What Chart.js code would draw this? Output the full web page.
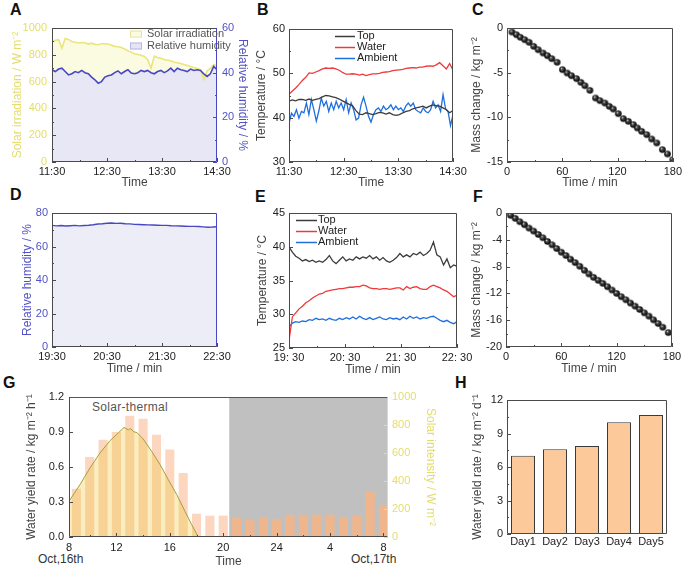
<!DOCTYPE html>
<html><head><meta charset="utf-8">
<script src="https://cdn.jsdelivr.net/npm/chart.js@4.4.1/dist/chart.umd.min.js"></script>
<style>
html,body{margin:0;padding:0;background:#fff;}
body{position:relative;width:685px;height:569px;overflow:hidden;font-family:"Liberation Sans",Arial,sans-serif;}
canvas{position:absolute;}
.pl{position:absolute;font-weight:bold;font-size:16px;line-height:16px;color:#111;}
.tx{position:absolute;font-size:12px;line-height:14px;color:#555;white-space:nowrap;}
</style></head><body>
<div class="pl" style="left:10px;top:2px">A</div>
<div class="pl" style="left:257px;top:2px">B</div>
<div class="pl" style="left:472px;top:2px">C</div>
<div class="pl" style="left:10px;top:187px">D</div>
<div class="pl" style="left:255px;top:189px">E</div>
<div class="pl" style="left:473px;top:189px">F</div>
<div class="pl" style="left:3px;top:375px">G</div>
<div class="pl" style="left:455px;top:375px">H</div>
<div class="tx" style="left:92px;top:400px;letter-spacing:0.3px">Solar-thermal</div>
<div class="tx" style="left:255px;top:400px;color:#444;letter-spacing:0.3px">Joule-heating</div>
<div class="tx" style="left:38px;top:552px;color:#333">Oct,16th</div>
<div class="tx" style="left:351px;top:552px;color:#333">Oct,17th</div>
<script>
// ================= DATA =================
// Panel A (11:30-14:30, minutes from 11:30)
const aTickMinutes = [0, 60, 120, 180];
const aTickLabels = ['11:30', '12:30', '13:30', '14:30'];
const aStep = 3.6;
const aSolar = [893, 908, 913, 850, 922, 915, 900, 893, 888, 892,
  890, 880, 887, 878, 875, 882, 883, 880, 872, 863,
  860, 855, 843, 830, 820, 808, 802, 797, 788, 763,
  700, 790, 780, 775, 765, 760, 755, 745, 740, 735,
  728, 720, 712, 705, 698, 690, 615, 680, 700, 728, 718];
const aHumidity = [41.3, 40.5, 41.6, 42.0, 40.5, 39.0, 39.5, 40.5, 40.0, 41.0,
  40.0, 39.5, 38.0, 36.8, 35.3, 36.0, 38.0, 38.6, 39.0, 40.0,
  40.8, 39.5, 40.5, 41.3, 39.8, 39.5, 40.0, 41.0, 40.5, 41.0,
  40.0, 39.5, 40.5, 41.0, 40.0, 40.8, 42.0, 40.5, 42.0, 41.3,
  41.0, 40.5, 41.6, 41.0, 41.3, 41.0, 39.5, 38.3, 39.5, 42.8, 41.3];

// Panel B temperatures
const bStep = 180 / 49;
const bTop = [43.7, 44.0, 43.8, 44.1, 44.1, 43.9, 44.2, 43.9, 44.1, 44.3,
  44.7, 45.0, 44.9, 44.7, 44.5, 44.2, 43.8, 43.4, 43.0, 42.7,
  41.6, 40.8, 40.7, 41.1, 40.9, 40.7, 40.9, 41.2, 41.1, 40.8,
  41.1, 40.7, 40.5, 40.7, 41.1, 41.4, 41.6, 42.0, 42.2, 42.4,
  42.6, 42.2, 42.6, 42.9, 42.7, 42.6, 42.2, 41.8, 41.1, 41.6];
const bWater = [45.3, 46.0, 46.7, 47.5, 48.4, 49.1, 50.1, 50.0, 50.3, 50.6,
  51.0, 51.2, 51.1, 51.2, 51.0, 50.7, 50.2, 49.8, 49.8, 49.9,
  49.8, 49.6, 49.8, 49.5, 49.7, 49.9, 49.9, 50.0, 50.2, 50.3,
  50.4, 50.6, 50.7, 50.8, 50.9, 51.1, 51.2, 51.3, 51.2, 51.4,
  51.4, 51.6, 51.7, 51.6, 51.9, 52.4, 51.7, 51.0, 52.2, 50.7];
const bAmbStep = 180 / 66;
const bAmbient = [38.8, 41.0, 40.3, 41.8, 39.9, 41.4, 41.1, 43.3, 40.7, 44.1,
  41.8, 39.2, 41.5, 44.4, 42.6, 43.7, 41.4, 43.3, 41.8, 43.7,
  42.2, 43.3, 41.8, 44.1, 41.1, 43.3, 41.8, 39.5, 39.9, 42.9,
  44.6, 42.6, 40.3, 39.0, 40.7, 41.8, 42.2, 41.4, 42.6, 41.8,
  42.2, 42.9, 41.8, 42.6, 41.8, 42.2, 41.4, 42.6, 43.3, 42.6,
  43.3, 41.8, 41.4, 41.1, 42.2, 41.4, 41.1, 41.8, 43.7, 42.2,
  42.9, 41.4, 45.2, 42.0, 41.4, 38.2, 40.7];

// Panel C mass change
const cTime = [5.4, 10.2, 14.5, 19.2, 24, 29, 33.8, 39.2, 43.9, 48.6, 54.4, 60.2, 65.3, 70, 75.5, 80.2, 84.6, 90,
  96.2, 100.9, 106.3, 111, 115.4, 120.8, 126.3, 131.7, 137.2, 141.5, 146.2, 151.7, 157.1, 162.6, 168.7, 174.2, 180];
const cMass = [-0.45, -0.75, -1.04, -1.31, -1.6, -2.05, -2.43, -2.8, -3.1, -3.43, -3.84, -4.66, -5.04, -5.34, -5.67, -6.08, -6.46, -6.98,
  -7.84, -8.13, -8.4, -8.77, -9.07, -9.59, -10.15, -10.45, -10.82, -11.19, -11.57, -11.94, -12.43, -12.87, -13.62, -14.1, -14.74];

// Panel D humidity (19:30-22:30)
const dTickLabels = ['19:30', '20:30', '21:30', '22:30'];
const dStep = 5;
const dHumidity = [72.6, 72.3, 72.5, 72.2, 72.4, 72.6, 72.3, 72.5, 72.7, 73.0,
  73.4, 73.6, 73.9, 74.0, 73.8, 73.9, 73.6, 73.5, 73.2, 73.1,
  73.0, 72.9, 72.8, 72.7, 72.6, 72.6, 72.4, 72.3, 72.2, 72.1,
  72.0, 72.0, 71.9, 71.7, 71.5, 71.6, 71.8];

// Panel E temperatures
const eTickLabels = ['19: 30', '20: 30', '21: 30', '22: 30'];
const eStep = 3.6;
const eTop = [40.0, 39.2, 38.6, 38.3, 37.9, 38.1, 37.8, 38.0, 37.7, 37.9,
  37.7, 38.1, 38.7, 37.9, 37.5, 38.0, 38.5, 37.9, 38.2, 38.0,
  38.5, 38.2, 38.5, 38.3, 38.7, 38.2, 38.5, 38.0, 38.4, 37.9,
  37.7, 38.0, 38.4, 39.0, 38.5, 38.8, 38.5, 39.0, 38.8, 39.2,
  38.7, 39.0, 39.5, 40.7, 38.8, 38.5, 37.3, 38.2, 36.9, 37.3, 37.1];
const eWater = [26.1, 29.6, 30.2, 30.8, 31.2, 31.7, 32.0, 32.4, 32.7, 33.0,
  33.1, 33.4, 33.5, 33.6, 33.7, 33.8, 33.8, 33.9, 34.0, 34.0,
  34.1, 34.1, 34.3, 34.2, 33.9, 33.8, 33.8, 33.7, 33.8, 33.8,
  33.7, 33.8, 33.9, 33.9, 33.6, 34.1, 33.8, 34.0, 34.1, 33.8,
  33.7, 33.7, 34.1, 34.3, 34.1, 33.9, 33.6, 33.4, 33.0, 32.6, 32.8];
const eAmbient = [28.1, 28.7, 28.9, 28.8, 29.0, 28.9, 29.2, 29.1, 29.4, 29.2,
  29.3, 29.1, 29.4, 29.2, 29.1, 29.4, 29.2, 29.5, 29.3, 29.6,
  29.3, 29.7, 29.4, 29.2, 29.5, 29.2, 29.4, 29.6, 29.3, 29.2,
  29.5, 29.3, 29.4, 29.2, 29.6, 29.3, 29.7, 29.4, 29.6, 29.3,
  29.5, 29.4, 29.6, 29.7, 29.4, 29.1, 28.9, 29.1, 28.8, 28.6, 28.9];

// Panel F mass change
const fTime = [5, 10, 15, 20, 25, 30, 35, 40, 45, 50, 55, 60, 65, 70, 75, 80, 85, 90, 95, 100,
  105, 110, 115, 120, 125, 130, 135, 140, 145, 150, 155, 160, 165, 170, 176];
const fMass = [-0.35, -0.8, -1.3, -1.75, -2.25, -2.7, -3.2, -3.7, -4.25, -4.75, -5.3, -5.85, -6.35, -6.9, -7.4, -7.95, -8.55, -9.1, -9.6, -10.05,
  -10.5, -11.0, -11.5, -12.0, -12.5, -12.95, -13.45, -13.9, -14.4, -14.9, -15.4, -15.95, -16.5, -17.05, -17.85];

// Panel G hourly water yield and solar intensity
const gTickHours = [8, 12, 16, 20, 24, 28, 32];
const gTickLabels = ['8', '12', '16', '20', '24', '4', '8'];
const gHours = [9, 10, 11, 12, 13, 14, 15, 16, 17, 18, 19, 20, 21, 22, 23, 24, 25, 26, 27, 28, 29, 30, 31, 32];
const gYield = [0.414, 0.686, 0.834, 0.90, 1.04, 1.014, 0.877, 0.749, 0.549, 0.20, 0.183, 0.183,
  0.171, 0.149, 0.163, 0.154, 0.191, 0.191, 0.191, 0.191, 0.163, 0.183, 0.386, 0.269];
const gSolarHours = [8.45, 9.27, 10.02, 10.77, 11.52, 12.14, 12.57, 12.9, 13.05, 13.3, 13.55, 13.8, 14.01, 14.64, 15.27, 15.89, 16.52, 17.14, 17.64, 18.13];
const gSolarIntensity = [255, 374, 493, 600, 688, 743, 783, 765, 775, 752, 745, 720, 700, 612, 517, 409, 303, 183, 88, 0];
const gJouleStart = 20.45;

// Panel H daily water yield
const hDays = ['Day1', 'Day2', 'Day3', 'Day4', 'Day5'];
const hYield = [7.01, 7.58, 7.88, 10.0, 10.66];

// ================= STYLE / HELPERS =================
const FONT = '"Liberation Sans", Arial, sans-serif';
Chart.defaults.font.family = FONT;
Chart.defaults.font.size = 11;
Chart.defaults.color = '#222';
Chart.defaults.animation = false;
Chart.defaults.plugins.legend.display = false;
Chart.defaults.plugins.tooltip.enabled = false;
Chart.defaults.elements.point.radius = 0;
Chart.defaults.elements.line.tension = 0;

const YEL = '#e4dd6c', BLU = '#5252c6', RED = '#ee3a3a', AMB = '#1f6fe0', DRK = '#3c3c3c', FR = '#4a4a4a';

const series = (step, arr) => arr.map((v, i) => ({x: i * step, y: v}));
const pairs = (xs, ys) => xs.map((x, i) => ({x: x, y: ys[i]}));
const plain = v => String(v);

function sphere(r) {
  const c = document.createElement('canvas');
  const s = Math.ceil(r * 2 + 2);
  c.width = c.height = s;
  const g = c.getContext('2d');
  const m = s / 2;
  const grd = g.createRadialGradient(m - r * 0.35, m - r * 0.4, 0.2, m, m, r);
  grd.addColorStop(0, '#d8d8d8');
  grd.addColorStop(0.35, '#444');
  grd.addColorStop(1, '#000');
  g.fillStyle = grd;
  g.beginPath(); g.arc(m, m, r, 0, Math.PI * 2); g.fill();
  return c;
}
const ball = sphere(3.3);

const deco = {
  id: 'deco',
  beforeDatasetsDraw(chart, args, o) {
    if (!o.shade) return;
    const {ctx, chartArea: a} = chart;
    const x0 = chart.scales.x.getPixelForValue(o.shade.from);
    ctx.save();
    ctx.fillStyle = o.shade.color;
    ctx.fillRect(x0, a.top, a.right - x0, a.bottom - a.top);
    ctx.restore();
  },
  afterDatasetsDraw(chart, args, o) {
    const {ctx, chartArea: a} = chart;
    ctx.save();
    ctx.lineWidth = 1;
    (o.ticks || []).forEach(t => {
      const s = chart.scales[t.scale];
      ctx.strokeStyle = t.color || FR;
      const n = Math.round((t.to - t.from) / t.step);
      for (let k = 0; k <= n; k++) {
        const v = t.from + k * t.step;
        const p = Math.round(s.getPixelForValue(v)) + 0.5;
        ctx.beginPath();
        if (s.isHorizontal()) { ctx.moveTo(p, a.bottom); ctx.lineTo(p, a.bottom - t.len); }
        else if (s.position === 'right') { ctx.moveTo(a.right, p); ctx.lineTo(a.right - t.len, p); }
        else { ctx.moveTo(a.left, p); ctx.lineTo(a.left + t.len, p); }
        ctx.stroke();
      }
    });
    const c = Object.assign({top: FR, right: FR, bottom: FR, left: FR}, o.frame || {});
    const L = Math.round(a.left) + 0.5, R = Math.round(a.right) - 0.5, T = Math.round(a.top) + 0.5, B = Math.round(a.bottom) - 0.5;
    const seg = (col, x1, y1, x2, y2) => { ctx.strokeStyle = col; ctx.beginPath(); ctx.moveTo(x1, y1); ctx.lineTo(x2, y2); ctx.stroke(); };
    seg(c.top, L, T, R, T); seg(c.bottom, L, B, R, B); seg(c.left, L, T, L, B); seg(c.right, R, T, R, B);
    if (o.legend) {
      const bx = o.box.x, by = o.box.y;
      ctx.font = '11px ' + FONT;
      ctx.textBaseline = 'middle';
      ctx.textAlign = 'left';
      o.legend.forEach(it => {
        const y = it.y - by;
        if (it.kind === 'line') {
          ctx.strokeStyle = it.color; ctx.lineWidth = 1.5;
          ctx.beginPath(); ctx.moveTo(it.x1 - bx, y + 0.5); ctx.lineTo(it.x2 - bx, y + 0.5); ctx.stroke();
        } else {
          ctx.fillStyle = it.fill; ctx.fillRect(it.x1 - bx, y - 3.5, it.x2 - it.x1, 7);
          ctx.strokeStyle = it.color; ctx.lineWidth = 1;
          ctx.strokeRect(it.x1 - bx + 0.5, y - 3.5 + 0.5, it.x2 - it.x1 - 1, 6);
        }
        ctx.fillStyle = it.tcolor || '#222';
        ctx.fillText(it.text, it.tx - bx, y);
      });
    }
    ctx.restore();
  }
};
Chart.register(deco);

function axis(o) {
  const cfg = {
    type: o.type || 'linear', position: o.position, offset: !!o.offset,
    grid: {display: false, drawTicks: false}, border: {display: false},
    ticks: {color: o.color || '#222', padding: o.pad == null ? 3 : o.pad, autoSkip: false, maxRotation: 0, font: {size: 11, weight: 'normal'}},
    title: {display: !!o.title, text: o.title || '', color: o.tcolor || o.color || '#444', font: {size: 12, weight: 'normal'},
      padding: {top: o.tpad || 0, bottom: o.tpad || 0}}
  };
  if (o.min != null) cfg.min = o.min;
  if (o.max != null) cfg.max = o.max;
  if (o.step != null) cfg.ticks.stepSize = o.step;
  if (o.cb) cfg.ticks.callback = o.cb;
  else if (cfg.type === 'linear') cfg.ticks.callback = plain;
  if (o.at) {
    cfg.afterBuildTicks = s => { s.ticks = o.at.map(v => ({value: v})); };
  }
  return cfg;
}

function panel(box, area, config) {
  const c = document.createElement('canvas');
  c.width = box.w; c.height = box.h;
  c.style.left = box.x + 'px'; c.style.top = box.y + 'px';
  c.style.width = box.w + 'px'; c.style.height = box.h + 'px';
  document.body.appendChild(c);
  const m = {left: area.l - box.x, right: box.x + box.w - area.r, top: area.t - box.y, bottom: box.y + box.h - area.b};
  const sc = config.options.scales;
  let hasRight = false;
  Object.keys(sc).forEach(k => {
    const s = sc[k];
    const horiz = (k === 'x' && s.position !== 'left' && s.position !== 'right');
    if (!horiz && s.position === 'right') hasRight = true;
    s.afterFit = sc2 => {
      if (horiz) sc2.height = m.bottom;
      else if (s.position === 'right') sc2.width = m.right;
      else sc2.width = m.left;
    };
  });
  config.options.responsive = false;
  config.options.maintainAspectRatio = false;
  config.options.layout = {padding: {top: m.top, left: 0, bottom: 0, right: hasRight ? 0 : m.right}};
  config.options.plugins = config.options.plugins || {};
  if (config.options.plugins.deco) config.options.plugins.deco.box = box;
  return new Chart(c.getContext('2d'), config);
}

const timeTicks = (labels) => (v, i) => labels[i];

// ================= PANEL A =================
panel({x: 0, y: 0, w: 250, h: 190}, {l: 52, t: 28, r: 217, b: 162}, {
  type: 'line',
  data: {datasets: [
    {data: series(aStep, aHumidity), yAxisID: 'y2', borderColor: '#4848c2', borderWidth: 1.6, backgroundColor: '#e7e7f5', fill: 'origin', order: 0},
    {data: series(aStep, aSolar), yAxisID: 'y', borderColor: '#ebe57a', borderWidth: 1.6, backgroundColor: '#fbfbe2', fill: 'origin', order: 1}
  ]},
  options: {
    plugins: {
      filler: {drawTime: 'beforeDatasetsDraw'},
      deco: {
        frame: {right: '#4848c2'},
        ticks: [
          {scale: 'x', from: 0, to: 180, step: 60, len: 4}, {scale: 'x', from: 30, to: 150, step: 60, len: 2},
          {scale: 'y', from: 0, to: 1000, step: 200, len: 4}, {scale: 'y', from: 100, to: 900, step: 200, len: 2},
          {scale: 'y2', from: 0, to: 60, step: 20, len: 4, color: '#4848c2'}, {scale: 'y2', from: 10, to: 50, step: 20, len: 2, color: '#4848c2'}
        ],
        legend: [
          {kind: 'box', x1: 130, x2: 142, y: 34, fill: '#fbfbe2', color: '#e8e4a0', text: 'Solar irradiation', tx: 147, tcolor: '#555'},
          {kind: 'box', x1: 130, x2: 142, y: 46, fill: '#e4e4f4', color: '#b8b8e4', text: 'Relative humidity', tx: 147, tcolor: '#555'}
        ]
      }
    },
    scales: {
      x: axis({min: 0, max: 180, at: aTickMinutes, cb: timeTicks(aTickLabels), title: 'Time', pad: 3}),
      y: axis({position: 'left', min: 0, max: 1000, step: 200, color: YEL, title: 'Solar irradiation / W m\u207B\u00B2', tpad: 10, pad: 5}),
      y2: axis({position: 'right', min: 0, max: 60, step: 20, color: BLU, title: 'Relative humidity / %', tpad: 0, pad: 5})
    }
  }
});

// ================= PANEL B =================
panel({x: 250, y: 0, w: 220, h: 190}, {l: 289, t: 29, r: 453, b: 162}, {
  type: 'line',
  data: {datasets: [
    {data: series(bStep, bTop), borderColor: DRK, borderWidth: 1.3},
    {data: series(bStep, bWater), borderColor: RED, borderWidth: 1.3},
    {data: series(bAmbStep, bAmbient), borderColor: AMB, borderWidth: 1.3}
  ]},
  options: {
    plugins: {deco: {
      ticks: [
        {scale: 'x', from: 0, to: 180, step: 60, len: 4}, {scale: 'x', from: 30, to: 150, step: 60, len: 2},
        {scale: 'y', from: 30, to: 60, step: 10, len: 4}, {scale: 'y', from: 35, to: 55, step: 10, len: 2}
      ],
      legend: [
        {kind: 'line', x1: 335, x2: 355, y: 36, color: DRK, text: 'Top', tx: 357},
        {kind: 'line', x1: 335, x2: 355, y: 47, color: RED, text: 'Water', tx: 357},
        {kind: 'line', x1: 335, x2: 355, y: 58, color: AMB, text: 'Ambient', tx: 357}
      ]
    }},
    scales: {
      x: axis({min: 0, max: 180, at: aTickMinutes, cb: timeTicks(aTickLabels), title: 'Time', pad: 3}),
      y: axis({position: 'left', min: 30, max: 60, step: 10, title: 'Temperature / \u00B0C', tpad: 4, pad: 4})
    }
  }
});

// ================= PANEL C =================
panel({x: 462, y: 0, w: 223, h: 190}, {l: 507, t: 28, r: 673, b: 162}, {
  type: 'scatter',
  data: {datasets: [
    {data: pairs(cTime, cMass), pointStyle: ball, pointRadius: 3.3, backgroundColor: '#000', borderColor: '#000'}
  ]},
  options: {
    plugins: {deco: {ticks: [
      {scale: 'x', from: 0, to: 180, step: 60, len: 4}, {scale: 'x', from: 30, to: 150, step: 60, len: 2},
      {scale: 'y', from: -15, to: 0, step: 5, len: 4}, {scale: 'y', from: -12.5, to: -2.5, step: 5, len: 2}
    ]}},
    scales: {
      x: axis({min: 0, max: 180, step: 60, title: 'Time / min', pad: 3}),
      y: axis({position: 'left', min: -15, max: 0, step: 5, title: 'Mass change / kg m\u207B\u00B2', tpad: 7, pad: 4})
    }
  }
});

// ================= PANEL D =================
panel({x: 0, y: 190, w: 250, h: 190}, {l: 52, t: 213, r: 217, b: 347}, {
  type: 'line',
  data: {datasets: [
    {data: series(dStep, dHumidity), borderColor: '#4848c2', borderWidth: 1.4, backgroundColor: '#ededf7', fill: 'origin'}
  ]},
  options: {
    plugins: {deco: {
      frame: {right: '#4848c2'},
      ticks: [
        {scale: 'x', from: 0, to: 180, step: 60, len: 4}, {scale: 'x', from: 30, to: 150, step: 60, len: 2},
        {scale: 'y', from: 0, to: 80, step: 20, len: 4}, {scale: 'y', from: 10, to: 70, step: 20, len: 2}
      ]
    }},
    scales: {
      x: axis({min: 0, max: 180, at: aTickMinutes, cb: timeTicks(dTickLabels), title: 'Time / min', tpad: 4, pad: 3}),
      y: axis({position: 'left', min: 0, max: 80, step: 20, color: BLU, title: 'Relative humidity / %', tpad: 20, pad: 4})
    }
  }
});

// ================= PANEL E =================
panel({x: 250, y: 190, w: 230, h: 190}, {l: 289, t: 213, r: 457, b: 348}, {
  type: 'line',
  data: {datasets: [
    {data: series(eStep, eTop), borderColor: DRK, borderWidth: 1.3},
    {data: series(eStep, eWater), borderColor: RED, borderWidth: 1.3},
    {data: series(eStep, eAmbient), borderColor: AMB, borderWidth: 1.3}
  ]},
  options: {
    plugins: {deco: {
      ticks: [
        {scale: 'x', from: 0, to: 180, step: 60, len: 4}, {scale: 'x', from: 30, to: 150, step: 60, len: 2},
        {scale: 'y', from: 25, to: 45, step: 5, len: 4}
      ],
      legend: [
        {kind: 'line', x1: 296, x2: 317, y: 220, color: DRK, text: 'Top', tx: 318},
        {kind: 'line', x1: 296, x2: 317, y: 231, color: RED, text: 'Water', tx: 318},
        {kind: 'line', x1: 296, x2: 317, y: 242, color: AMB, text: 'Ambient', tx: 318}
      ]
    }},
    scales: {
      x: axis({min: 0, max: 180, at: aTickMinutes, cb: timeTicks(eTickLabels), title: 'Time / min', tpad: 3, pad: 3}),
      y: axis({position: 'left', min: 25, max: 45, step: 5, title: 'Temperature / \u00B0C', tpad: 5, pad: 4})
    }
  }
});

// ================= PANEL F =================
panel({x: 462, y: 190, w: 223, h: 190}, {l: 506, t: 213, r: 672, b: 347}, {
  type: 'scatter',
  data: {datasets: [
    {data: pairs(fTime, fMass), pointStyle: ball, pointRadius: 3.3, backgroundColor: '#000', borderColor: '#000'}
  ]},
  options: {
    plugins: {deco: {ticks: [
      {scale: 'x', from: 0, to: 180, step: 60, len: 4}, {scale: 'x', from: 30, to: 150, step: 60, len: 2},
      {scale: 'y', from: -20, to: 0, step: 4, len: 4}, {scale: 'y', from: -18, to: -2, step: 4, len: 2}
    ]}},
    scales: {
      x: axis({min: 0, max: 180, step: 60, title: 'Time / min', tpad: 4, pad: 3}),
      y: axis({position: 'left', min: -20, max: 0, step: 4, title: 'Mass change / kg m\u207B\u00B2', tpad: 7, pad: 4})
    }
  }
});

// ================= PANEL G =================
const gMin = 8.45, gMax = 32.34;
panel({x: 20, y: 385, w: 420, h: 184}, {l: 69, t: 397, r: 388, b: 537}, {
  type: 'bar',
  data: {datasets: [
    {type: 'line', data: pairs(gSolarHours, gSolarIntensity), yAxisID: 'y2', borderColor: '#a3a03c', borderWidth: 1,
      backgroundColor: 'rgba(240,200,60,0.32)', fill: 'origin', order: 0},
    {type: 'bar', data: pairs(gHours, gYield), yAxisID: 'y', order: 1, barPercentage: 0.68, categoryPercentage: 1,
      backgroundColor: ctx => (ctx.raw && ctx.raw.x > gJouleStart) ? '#efb68e' : '#fdd6bf', borderWidth: 0}
  ]},
  options: {
    plugins: {deco: {
      shade: {from: gJouleStart, color: '#c0c0c0'},
      frame: {right: '#e8e26e', top: '#555'},
      ticks: [
        {scale: 'x', from: 12, to: 32, step: 4, len: 4}, {scale: 'x', from: 10, to: 30, step: 4, len: 2},
        {scale: 'y', from: 0, to: 1.2, step: 0.3, len: 4},
        {scale: 'y2', from: 0, to: 1000, step: 200, len: 4, color: '#e8e26e'}
      ]
    }},
    scales: {
      x: axis({min: gMin, max: gMax, at: gTickHours.map(h => Math.max(h, gMin)), cb: timeTicks(gTickLabels), title: 'Time', pad: 4}),
      y: axis({position: 'left', min: 0, max: 1.2, step: 0.3, cb: v => v.toFixed(1), title: 'Water yield rate / kg m\u207B\u00B2 h\u207B\u00B9', tpad: 4, pad: 5}),
      y2: axis({position: 'right', min: 0, max: 1000, step: 200, color: YEL, title: 'Solar intensity / W m\u207B\u00B2', tpad: 2, pad: 4})
    }
  }
});

// ================= PANEL H =================
panel({x: 465, y: 385, w: 220, h: 175}, {l: 507, t: 400, r: 667, b: 534}, {
  type: 'bar',
  data: {labels: hDays, datasets: [
    {data: hYield, backgroundColor: '#fbc99a', borderColor: '#3a3a3a', borderWidth: 1, barPercentage: 0.75, categoryPercentage: 1}
  ]},
  options: {
    plugins: {deco: {ticks: [
      {scale: 'y', from: 0, to: 12, step: 3, len: 4}, {scale: 'y', from: 1.5, to: 10.5, step: 3, len: 2}
    ]}},
    scales: {
      x: axis({type: 'category', offset: true, pad: 1}),
      y: axis({position: 'left', min: 0, max: 12, step: 3, title: 'Water yield rate / kg m\u207B\u00B2 d\u207B\u00B9', tpad: 5, pad: 4})
    }
  }
});
</script>
</body></html>
